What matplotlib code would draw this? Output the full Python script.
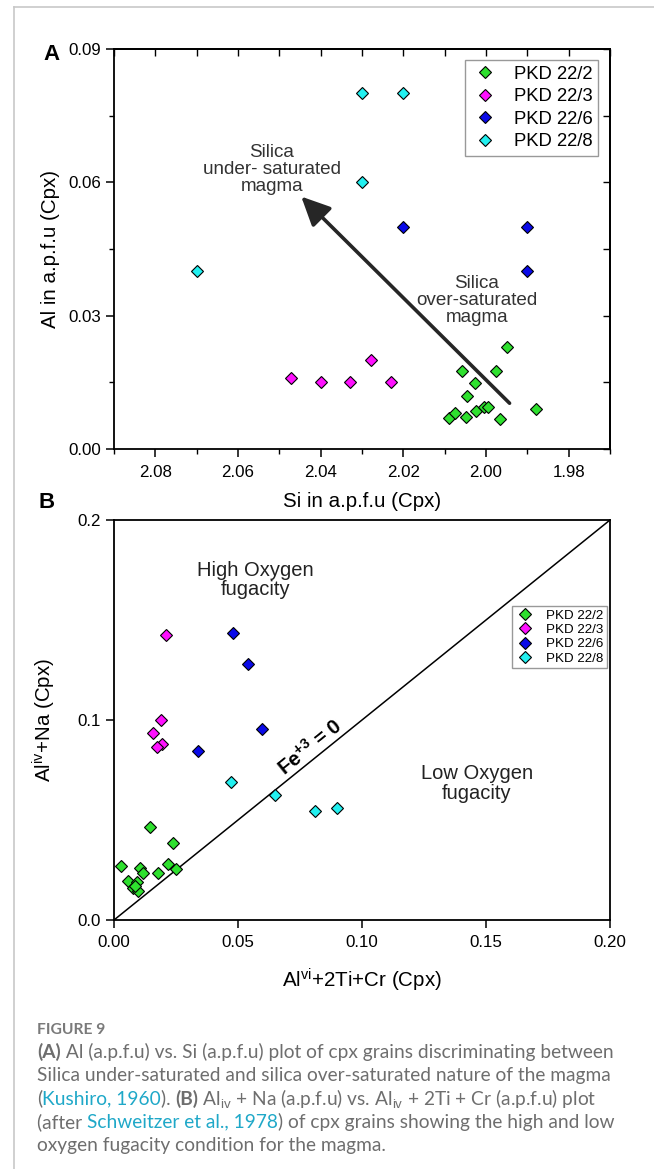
import matplotlib
matplotlib.use('Agg')
import matplotlib.pyplot as plt
from matplotlib.lines import Line2D
from matplotlib.ticker import MultipleLocator, FixedLocator
from matplotlib.transforms import IdentityTransform

plt.rcParams['font.family'] = ['Liberation Sans', 'DejaVu Sans']
plt.rcParams['mathtext.fontset'] = 'custom'
plt.rcParams['mathtext.rm'] = 'Liberation Sans'
plt.rcParams['mathtext.it'] = 'Liberation Sans:italic'
plt.rcParams['mathtext.bf'] = 'Liberation Sans:bold'

# ---------------- data ----------------
samples = ['PKD 22/2', 'PKD 22/3', 'PKD 22/6', 'PKD 22/8']
colors = ['#2ee02e', '#ff10ff', '#0a0ae8', '#22f0f0']

# Panel A: Si (x) vs Al (y), a.p.f.u
a_si_2 = [2.009, 2.0074, 2.0048, 2.0046, 2.0059, 2.0026, 2.0023, 2.0006, 1.9996, 1.9976, 1.9965, 1.9949, 1.9878]
a_al_2 = [0.0069, 0.0080, 0.0073, 0.0119, 0.0176, 0.0149, 0.0086, 0.0095, 0.0095, 0.0175, 0.0067, 0.0230, 0.0090]
a_si_3 = [2.0471, 2.040, 2.033, 2.0278, 2.0229]
a_al_3 = [0.016, 0.015, 0.015, 0.020, 0.015]
a_si_6 = [2.02, 1.99, 1.99]
a_al_6 = [0.05, 0.05, 0.04]
a_si_8 = [2.03, 2.02, 2.03, 2.07]
a_al_8 = [0.08, 0.08, 0.06, 0.04]

# Panel B: AlVI+2Ti+Cr (x) vs AlIV+Na (y)
b_x_2 = [0.0028, 0.0058, 0.0075, 0.0091, 0.0098, 0.0105, 0.0118, 0.0145, 0.0179, 0.0219, 0.0239, 0.0250, 0.0085]
b_y_2 = [0.0270, 0.0197, 0.0158, 0.0192, 0.0147, 0.0258, 0.0233, 0.0467, 0.0237, 0.0280, 0.0383, 0.0253, 0.0170]
b_x_3 = [0.0210, 0.0190, 0.0158, 0.0192, 0.0175]
b_y_3 = [0.1425, 0.1000, 0.0937, 0.0880, 0.0867]
b_x_6 = [0.0478, 0.0540, 0.0598, 0.0337]
b_y_6 = [0.1437, 0.1280, 0.0955, 0.0847]
b_x_8 = [0.0470, 0.0650, 0.0812, 0.0898]
b_y_8 = [0.0688, 0.0625, 0.0547, 0.0558]

a_xticks = [2.08, 2.06, 2.04, 2.02, 2.00, 1.98]
a_yticks = [0.00, 0.03, 0.06, 0.09]
b_xticks = [0.00, 0.05, 0.10, 0.15, 0.20]
b_yticks = [0.0, 0.1, 0.2]

# ---------------- layout ----------------
W, H = 654, 1169
fig = plt.figure(figsize=(W / 100, H / 100), dpi=100)


def rect(l, t, r, b):
    return [l / W, 1 - b / H, (r - l) / W, (b - t) / H]


# page frame lines
fig.add_artist(Line2D([14 / W, 14 / W], [0, 1 - 7 / H], color='#c8c8c8', lw=1.2, transform=fig.transFigure))
fig.add_artist(Line2D([14 / W, 1], [1 - 7 / H, 1 - 7 / H], color='#c8c8c8', lw=1.2, transform=fig.transFigure))

MS = 6.6
spine_lw = 1.3
TICK_FS = 12.2
LAB_FS = 14.8

# ---------------- Panel A ----------------
axA = fig.add_axes(rect(114, 49, 610, 449))
for xs, ys, c, lab in zip([a_si_2, a_si_3, a_si_6, a_si_8], [a_al_2, a_al_3, a_al_6, a_al_8], colors, samples):
    axA.plot(xs, ys, ls='none', marker='D', ms=MS, mfc=c, mec='black', mew=0.8, label=lab)
axA.set_xlim(2.09, 1.97)
axA.set_ylim(0, 0.09)
axA.xaxis.set_major_locator(FixedLocator(a_xticks))
axA.xaxis.set_minor_locator(MultipleLocator(0.01))
axA.yaxis.set_major_locator(FixedLocator(a_yticks))
axA.yaxis.set_minor_locator(MultipleLocator(0.015))
axA.set_xticklabels([f'{v:.2f}' for v in a_xticks])
axA.set_yticklabels([f'{v:.2f}' for v in a_yticks])
axA.tick_params(which='major', direction='out', length=6, width=1.1, labelsize=TICK_FS, pad=3.5)
axA.tick_params(axis='x', which='major', pad=5.5)
axA.tick_params(which='minor', direction='out', length=3.5, width=1.0)
for s in axA.spines.values():
    s.set_linewidth(spine_lw)
# mirrored inward ticks on top and right
topA = axA.secondary_xaxis('top')
topA.xaxis.set_major_locator(MultipleLocator(0.01))
topA.tick_params(direction='in', length=5, width=1.0, labeltop=False)
topA.spines['top'].set_linewidth(spine_lw)
rightA = axA.secondary_yaxis('right')
rightA.yaxis.set_major_locator(MultipleLocator(0.015))
rightA.tick_params(direction='in', length=5, width=1.0, labelright=False)
rightA.spines['right'].set_linewidth(spine_lw)

axA.set_xlabel('Si in a.p.f.u (Cpx)', fontsize=LAB_FS)
axA.set_ylabel('Al in a.p.f.u (Cpx)', fontsize=LAB_FS)
axA.xaxis.set_label_coords(0.5, -(492 - 449) / 400)
axA.yaxis.set_label_coords(-(114 - 60) / 496, 0.5)

axA.annotate('', xy=(2.0447, 0.0568), xytext=(1.9943, 0.0103),
             arrowprops=dict(arrowstyle='-|>,head_length=0.8,head_width=0.38', color='#262626',
                             lw=2.6, mutation_scale=22, shrinkA=0, shrinkB=0))
axA.text(2.0518, 0.0628, 'Silica\nunder- saturated\nmagma', ha='center', va='center',
         fontsize=13.6, color='#333333', linespacing=1.0)
axA.text(2.0022, 0.0335, 'Silica\nover-saturated\nmagma', ha='center', va='center',
         fontsize=13.6, color='#333333', linespacing=1.0)

legA = axA.legend(loc='upper right', bbox_to_anchor=(0.9758, 0.9725), borderaxespad=0,
                  fontsize=13.3, frameon=True, fancybox=False, edgecolor='#808080',
                  handletextpad=0.75, handlelength=1.6, borderpad=0.3, labelspacing=0.3)
legA.get_frame().set_linewidth(1.0)

fig.text(52 / W, 1 - 55 / H, 'A', fontsize=16, fontweight='bold', ha='center', va='center')

# ---------------- Panel B ----------------
axB = fig.add_axes(rect(114, 520, 610, 920))
axB.plot([0, 0.2], [0, 0.2], color='black', lw=1.1)
for xs, ys, c, lab in zip([b_x_2, b_x_3, b_x_6, b_x_8], [b_y_2, b_y_3, b_y_6, b_y_8], colors, samples):
    axB.plot(xs, ys, ls='none', marker='D', ms=MS, mfc=c, mec='black', mew=0.8, label=lab)
axB.set_xlim(0, 0.2)
axB.set_ylim(0, 0.2)
axB.xaxis.set_major_locator(FixedLocator(b_xticks))
axB.yaxis.set_major_locator(FixedLocator(b_yticks))
axB.set_xticklabels([f'{v:.2f}' for v in b_xticks])
axB.set_yticklabels([f'{v:.1f}' for v in b_yticks])
axB.tick_params(which='major', direction='out', length=6, width=1.1, labelsize=TICK_FS, pad=3.5)
axB.tick_params(axis='x', which='major', pad=5)
for s in axB.spines.values():
    s.set_linewidth(spine_lw)
axB.set_xlabel(r'Al$^{\mathrm{vi}}$+2Ti+Cr (Cpx)', fontsize=LAB_FS)
axB.set_ylabel(r'Al$^{\mathrm{iv}}$+Na (Cpx)', fontsize=LAB_FS)
axB.xaxis.set_label_coords(0.5, -(967 - 920) / 400)
axB.yaxis.set_label_coords(-(114 - 58) / 496, 0.5)

axB.text(0.0569, 0.170, 'High Oxygen\nfugacity', ha='center', va='center', fontsize=14.5,
         color='#222222', linespacing=1.05)
axB.text(0.1462, 0.0683, 'Low Oxygen\nfugacity', ha='center', va='center', fontsize=14.5,
         color='#222222', linespacing=1.05)
axB.text(0.079, 0.0867, r'Fe$^{\mathbf{+3}}$ = 0', ha='center', va='center', fontsize=14.6,
         fontweight='bold', rotation=38.9, rotation_mode='anchor')

legB = axB.legend(loc='upper right', bbox_to_anchor=(0.9933, 0.785), borderaxespad=0,
                  fontsize=9.6, frameon=True, fancybox=False, edgecolor='#808080',
                  handletextpad=0.9, handlelength=1.4, borderpad=0.25, labelspacing=0.15)
legB.get_frame().set_linewidth(1.0)

fig.text(47 / W, 1 - 503 / H, 'B', fontsize=16, fontweight='bold', ha='center', va='center')

# ---------------- caption ----------------
renderer = fig.canvas.get_renderer()
CAP_FONT = ['Lato', 'DejaVu Sans']
GREY = '#6e6e6e'
LINK = '#1fa8c8'


def advance(s, size, weight='normal'):
    t = fig.text(0, 0, 'x' + s + 'x', fontsize=size, family=CAP_FONT, fontweight=weight)
    w1 = t.get_window_extent(renderer).width
    t.remove()
    t = fig.text(0, 0, 'xx', fontsize=size, family=CAP_FONT, fontweight=weight)
    w0 = t.get_window_extent(renderer).width
    t.remove()
    return w1 - w0


ref_line = 'Silica under-saturated and silica over-saturated nature of the magma'
cap_fs = 10 * 574 / advance(ref_line, 10)

cap_lines = [
    [('(A)', GREY, 'bold'), (' Al (a.p.f.u) vs. Si (a.p.f.u) plot of cpx grains discriminating between', GREY, 'normal')],
    [(ref_line, GREY, 'normal')],
    [('(', GREY, 'normal'), ('Kushiro, 1960', LINK, 'normal'), ('). ', GREY, 'normal'), ('(B)', GREY, 'bold'),
     (r' Al$_{\mathrm{iv}}$ + Na (a.p.f.u) vs. Al$_{\mathrm{iv}}$ + 2Ti + Cr (a.p.f.u) plot', GREY, 'normal')],
    [('(after ', GREY, 'normal'), ('Schweitzer et al., 1978', LINK, 'normal'),
     (') of cpx grains showing the high and low', GREY, 'normal')],
    [('oxygen fugacity condition for the magma.', GREY, 'normal')],
]
line_y = [1051.5, 1075, 1098.5, 1122, 1146]

fig.text(37, H - 1030, 'FIGURE 9', fontsize=cap_fs * 0.82, family=CAP_FONT, fontweight='bold',
         color='#7a7a7a', ha='left', va='center', transform=IdentityTransform())
for segs, yy in zip(cap_lines, line_y):
    x = 37
    for s, c, wgt in segs:
        fig.text(x, H - yy, s, fontsize=cap_fs, family=CAP_FONT, fontweight=wgt, color=c,
                 ha='left', va='center', transform=IdentityTransform())
        x += advance(s, cap_fs, wgt)

fig.savefig('out.png', dpi=100)
